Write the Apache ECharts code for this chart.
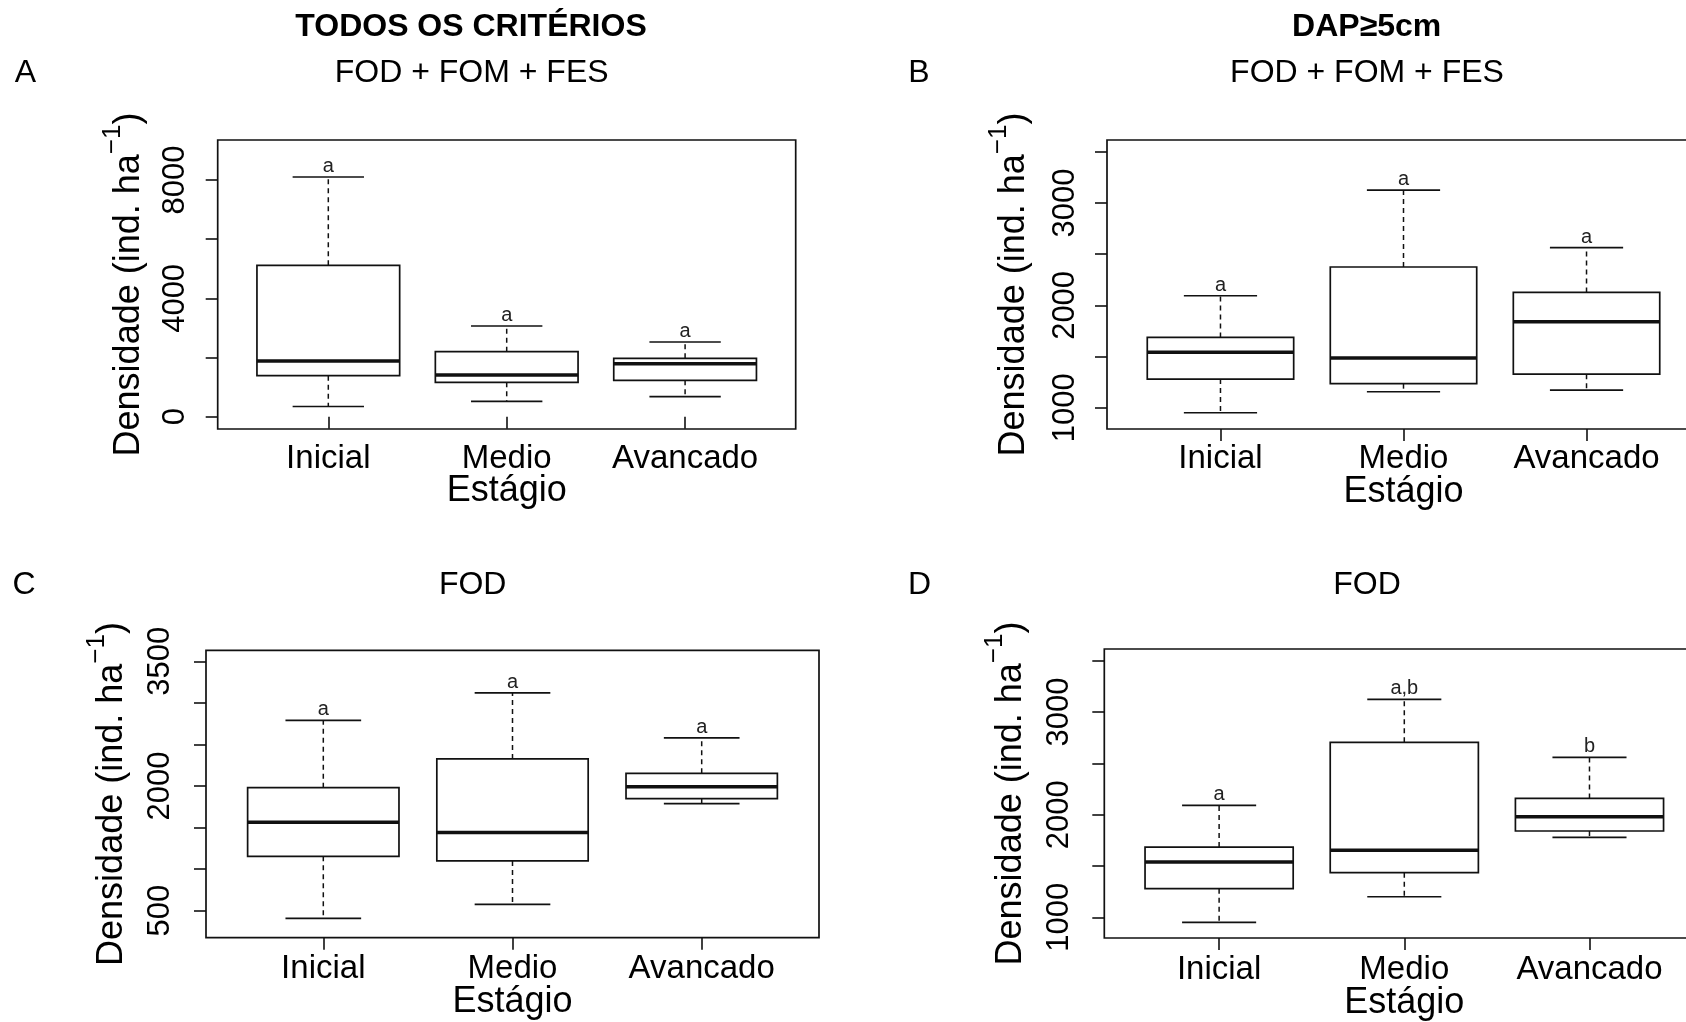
<!DOCTYPE html>
<html><head><meta charset="utf-8">
<script src="https://cdn.jsdelivr.net/npm/echarts@6/dist/echarts.min.js"></script>
<style>html,body{margin:0;padding:0;background:#fff}#c{width:1686px;height:1022px}</style>
</head><body><div id="c"></div>
<script>
// ---------- data ----------
const categories = ['Inicial', 'Medio', 'Avancado'];
// five-number summaries per stage: [lower whisker, Q1, median, Q3, upper whisker]
const boxA = [[345, 1386, 1883, 5118, 8103], [521, 1163, 1410, 2197, 3066], [676, 1231, 1792, 1974, 2525]];
const boxB = [[951, 1280, 1541, 1687, 2094], [1156, 1235, 1487, 2375, 3127], [1171, 1328, 1840, 2127, 2564]];
const boxC = [[408, 1154, 1563, 1980, 2790], [576, 1098, 1439, 2325, 3119], [1787, 1848, 1992, 2152, 2578]];
const boxD = [[951, 1279, 1539, 1685, 2091], [1201, 1435, 1653, 2705, 3123], [1779, 1841, 1980, 2159, 2558]];
const lettersA = ['a', 'a', 'a'];
const lettersB = ['a', 'a', 'a'];
const lettersC = ['a', 'a', 'a'];
const lettersD = ['a', 'a,b', 'b'];
const rangeA = [-416, 9354];
const rangeB = [792, 3616];
const rangeC = [175, 3632];
const rangeD = [799, 3614];
const ticksA = [0, 2000, 4000, 6000, 8000];
const labelsA = [0, 4000, 8000];
const ticksB = [1000, 1500, 2000, 2500, 3000, 3500];
const labelsB = [1000, 2000, 3000];
const ticksC = [500, 1000, 1500, 2000, 2500, 3000, 3500];
const labelsC = [500, 2000, 3500];
const ticksD = [1000, 1500, 2000, 2500, 3000, 3500];
const labelsD = [1000, 2000, 3000];
const panelTitles = ['FOD + FOM + FES', 'FOD + FOM + FES', 'FOD', 'FOD'];
const panelLetters = ['A', 'B', 'C', 'D'];
const columnTitles = ['TODOS OS CRITÉRIOS', 'DAP≥5cm'];
const xName = 'Estágio';

// ---------- layout ----------
const FONT = '"Liberation Sans", Arial, Helvetica, sans-serif';
const INK = '#111';
const layout = [
  {left: 217.7, top: 140,   width: 578, height: 289,   lm: 27, ng: 70.5, xm: 13.5, xng: 44},
  {left: 1107,  top: 140,   width: 593, height: 289,   lm: 26, ng: 74.5, xm: 13.5, xng: 44.7},
  {left: 206,   top: 650.3, width: 613, height: 287.4, lm: 30, ng: 75.5, xm: 15,   xng: 46},
  {left: 1104.3,top: 649,   width: 600, height: 289,   lm: 29, ng: 75,   xm: 15.5, xng: 47.5}
];
const boxes = [boxA, boxB, boxC, boxD];
const letters = [lettersA, lettersB, lettersC, lettersD];
const ranges = [rangeA, rangeB, rangeC, rangeD];
const ticks = [ticksA, ticksB, ticksC, ticksD];
const labels = [labelsA, labelsB, labelsC, labelsD];
const catPos = categories.map((_, i) => i + 1);

function renderBox(lets) {
  return function (params, api) {
    const x = api.value(0);
    const pLo = api.coord([x, api.value(1)]);
    const pQ1 = api.coord([x, api.value(2)]);
    const pMd = api.coord([x, api.value(3)]);
    const pQ3 = api.coord([x, api.value(4)]);
    const pHi = api.coord([x, api.value(5)]);
    const halfBox = api.size([0.4, 0])[0];
    const halfCap = api.size([0.2, 0])[0];
    const cx = pMd[0];
    const line = (x1, y1, x2, y2, w, dash) => ({
      type: 'line', shape: {x1, y1, x2, y2},
      style: {stroke: INK, lineWidth: w, lineDash: dash || null, fill: null}
    });
    return {type: 'group', children: [
      line(cx, pQ3[1], cx, pHi[1], 1.5, [5, 4]),
      line(cx, pQ1[1], cx, pLo[1], 1.5, [5, 4]),
      line(cx - halfCap, pHi[1], cx + halfCap, pHi[1], 1.7),
      line(cx - halfCap, pLo[1], cx + halfCap, pLo[1], 1.7),
      {type: 'rect', shape: {x: cx - halfBox, y: pQ3[1], width: 2 * halfBox, height: pQ1[1] - pQ3[1]},
       style: {fill: 'none', stroke: INK, lineWidth: 1.7}},
      line(cx - halfBox, pMd[1], cx + halfBox, pMd[1], 3.5),
      {type: 'text', style: {text: lets[params.dataIndex], x: cx, y: pHi[1] - 0.5,
        textAlign: 'center', textVerticalAlign: 'bottom', font: '20px ' + FONT, fill: '#222'}}
    ]};
  };
}

const grids = [], xAxes = [], yAxes = [], series = [];
layout.forEach((L, i) => {
  grids.push({left: L.left, top: L.top, width: L.width, height: L.height, show: true,
    borderColor: INK, borderWidth: 1.7, backgroundColor: 'transparent',
    containLabel: false, outerBoundsMode: 'none'});
  xAxes.push({gridIndex: i, type: 'value', min: 0.38, max: 3.62,
    axisLine: {show: false}, splitLine: {show: false},
    axisTick: {show: true, customValues: catPos, length: 12, inside: false, lineStyle: {color: INK, width: 1.6}},
    axisLabel: {show: true, customValues: catPos, formatter: v => categories[Math.round(v) - 1],
      fontSize: 33, color: '#000', margin: L.xm, fontFamily: FONT},
    name: xName, nameLocation: 'middle', nameGap: L.xng, nameMoveOverlap: false,
    nameTextStyle: {fontSize: 36, color: '#000', fontFamily: FONT}});
  yAxes.push({gridIndex: i, type: 'value', min: ranges[i][0], max: ranges[i][1],
    axisLine: {show: false}, splitLine: {show: false},
    axisTick: {show: true, customValues: ticks[i], length: 12, inside: false, lineStyle: {color: INK, width: 1.6}},
    axisLabel: {show: true, customValues: labels[i], rotate: 90, margin: L.lm, fontSize: 31,
      formatter: v => String(Math.round(v)), color: '#000', fontFamily: FONT},
    name: '{m|Densidade (ind. ha}{s|−1}{m|)}', nameLocation: 'middle', nameRotate: 90,
    nameGap: L.ng, nameMoveOverlap: false,
    nameTextStyle: {color: '#000', fontFamily: FONT, lineHeight: 47,
      rich: {m: {fontSize: 36, fontFamily: FONT, color: '#000', verticalAlign: 'bottom'},
             s: {fontSize: 26, fontFamily: FONT, color: '#000', verticalAlign: 'top'}}}});
  series.push({type: 'custom', xAxisIndex: i, yAxisIndex: i, clip: false,
    renderItem: renderBox(letters[i]),
    encode: {x: 0, y: [1, 2, 3, 4, 5]},
    data: boxes[i].map((b, k) => [catPos[k]].concat(b))});
});

const txt = (text, x, y, size, bold) => ({type: 'text', style: {text, x, y,
  textAlign: 'center', textVerticalAlign: 'middle',
  font: (bold ? 'bold ' : '') + size + 'px ' + FONT, fill: '#000'}});

const graphic = [
  txt(columnTitles[0], 471, 27, 32, true),
  txt(columnTitles[1], 1366.7, 27, 32, true),
  txt(panelLetters[0], 25.5, 73, 32), txt(panelTitles[0], 471.7, 73, 32),
  txt(panelLetters[1], 919, 73, 32), txt(panelTitles[1], 1367, 73, 32),
  txt(panelLetters[2], 24, 585, 32), txt(panelTitles[2], 472.7, 585, 32),
  txt(panelLetters[3], 919.5, 585, 32), txt(panelTitles[3], 1367, 585, 32)
];

const chart = echarts.init(document.getElementById('c'), null, {renderer: 'canvas'});
chart.setOption({
  animation: false,
  backgroundColor: '#fff',
  grid: grids, xAxis: xAxes, yAxis: yAxes, series: series, graphic: graphic
});
</script></body></html>
